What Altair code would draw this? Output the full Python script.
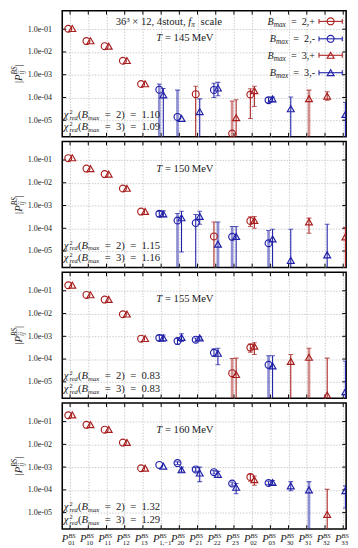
import altair as alt
import pandas as pd

N = None
FONT = "Liberation Serif"
RED = "#a81e1e"
BLUE = "#1f1fa8"
INK = "#222222"
GRID = "#bdbdbd"
W, H = 293, 130
YMIN, YMAX = 1.9e-6, 0.65

# ---------------- data ----------------
SUBS = ["01", "10", "11", "12", "13", "1,−1", "20", "21", "22", "23",
        "02", "03", "30", "31", "32", "33"]
TEMPS = [145, 150, 155, 160]
SERIES = ["2,+", "2,-", "3,+", "3,-"]
CHI2_B2 = [1.10, 1.15, 0.83, 1.32]
CHI2_B3 = [1.09, 1.16, 0.83, 1.29]
DECADES = [1e-1, 1e-2, 1e-3, 1e-4, 1e-5]

# T = 145 MeV
val_145_2p = [0.105, 0.030, 0.018, 4.1e-3, 3.9e-4, N, N, 1.4e-4, N, 2.6e-6, 1.35e-4, N, N, N, N, N]
up_145_2p = [N, N, N, N, N, N, N, 3.1e-4, N, 7.0e-5, 2.4e-4, N, N, N, N, N]
lo_145_2p = [N, N, N, N, N, N, N, 0, N, 0, 1.2e-5, N, N, N, N, N]
val_145_2m = [N, N, N, N, N, 2.2e-4, 1.4e-5, N, 2.15e-4, N, N, 7.6e-5, N, N, N, N]
up_145_2m = [N, N, N, N, N, 3.9e-4, 2.1e-4, N, 4.2e-4, N, N, 1.0e-4, N, N, N, N]
lo_145_2m = [N, N, N, N, N, 0, 0, N, 1.0e-4, N, N, 6.0e-5, N, N, N, N]
val_145_3p = [0.107, 0.031, 0.018, 4.2e-3, 4.0e-4, N, N, N, N, 1.3e-5, 2.0e-4, N, N, 8.9e-5, 1.15e-4, N]
up_145_3p = [N, N, N, N, N, N, N, N, N, 8.0e-5, 3.1e-4, N, N, 2.1e-4, 1.8e-4, N]
lo_145_3p = [N, N, N, N, N, N, N, N, N, 0, 4.0e-5, N, N, 0, 7.5e-5, N]
val_145_3m = [N, N, N, N, N, 1.3e-4, 1.2e-5, 2.4e-5, 2.6e-4, N, N, 8.7e-5, 3.2e-5, N, N, 1.8e-5]
up_145_3m = [N, N, N, N, N, 2.5e-4, N, 8.7e-5, 4.6e-4, N, N, 1.05e-4, 1.05e-4, N, N, 6.0e-5]
lo_145_3m = [N, N, N, N, N, 0, N, 0, 1.2e-4, N, N, 6.5e-5, 0, N, N, 0]

# T = 150 MeV
val_150_2p = [0.12, 0.042, 0.024, 5.6e-3, 5.4e-4, N, N, N, 4.4e-5, N, 2.1e-4, N, N, N, N, N]
up_150_2p = [N, N, N, N, N, N, N, N, 1.9e-4, N, 3.2e-4, N, N, N, N, N]
lo_150_2p = [N, N, N, N, N, N, N, N, 0, N, 1.2e-4, N, N, N, N, N]
val_150_2m = [N, N, N, N, N, 4.3e-4, 2.2e-4, 1.7e-4, N, 4.2e-5, N, 2.2e-5, N, N, N, N]
up_150_2m = [N, N, N, N, N, 5.5e-4, 4.5e-4, 4.0e-4, N, 1.2e-4, N, 8.0e-5, N, N, N, N]
lo_150_2m = [N, N, N, N, N, 3.3e-4, 0, 0, N, 0, N, 0, N, N, N, N]
val_150_3p = [0.125, 0.042, 0.024, 5.7e-3, 5.5e-4, N, N, N, N, N, 2.2e-4, N, N, 1.9e-4, N, 4.2e-5]
up_150_3p = [N, N, N, N, N, N, N, N, N, N, 3.3e-4, N, N, 2.8e-4, N, 1.1e-4]
lo_150_3p = [N, N, N, N, N, N, N, N, N, N, 1.0e-4, N, N, 6.0e-5, N, 0]
val_150_3m = [N, N, N, N, N, 4.3e-4, 2.9e-4, 3.3e-4, 2.0e-5, 4.4e-5, N, 3.4e-5, 3.9e-6, N, 6.8e-6, N]
up_150_3m = [N, N, N, N, N, 5.8e-4, 5.6e-4, 5.6e-4, 1.9e-4, 1.2e-4, N, 9.0e-5, 9.0e-5, N, 1.5e-4, N]
lo_150_3m = [N, N, N, N, N, 3.2e-4, 9.0e-6, 1.5e-4, 0, 0, N, 0, 0, N, 0, N]

# T = 155 MeV
val_155_2p = [0.175, 0.066, 0.041, 9.3e-3, 7.9e-4, N, N, N, N, 2.4e-5, 3.2e-4, N, N, N, N, N]
up_155_2p = [N, N, N, N, N, N, N, N, N, 1.05e-4, 4.6e-4, N, N, N, N, N]
lo_155_2p = [N, N, N, N, N, N, N, N, N, 0, 2.0e-4, N, N, N, N, N]
val_155_2m = [N, N, N, N, N, 8.5e-4, 6.2e-4, 7.1e-4, 1.9e-4, N, N, 5.6e-5, N, N, N, N]
up_155_2m = [N, N, N, N, N, 1.1e-3, 8.0e-4, 8.5e-4, 2.8e-4, N, N, 1.4e-4, N, N, N, N]
lo_155_2m = [N, N, N, N, N, 6.5e-4, 4.5e-4, 5.8e-4, 1.3e-4, N, N, 0, N, N, N, N]
val_155_3p = [0.178, 0.067, 0.042, 9.5e-3, 8.0e-4, N, N, N, N, 2.1e-5, 3.7e-4, N, 7.9e-5, 1.2e-4, 2.6e-6, N]
up_155_3p = [N, N, N, N, N, N, N, N, N, 1.1e-4, 5.2e-4, N, 1.6e-4, 3.0e-4, 1.1e-4, N]
lo_155_3p = [N, N, N, N, N, N, N, N, N, 0, 1.6e-4, N, 0, 0, 0, N]
val_155_3m = [N, N, N, N, N, 8.6e-4, 8.9e-4, 8.5e-4, 1.8e-4, N, N, 5.0e-5, N, N, N, 3.7e-6]
up_155_3m = [N, N, N, N, N, 1.15e-3, 1.3e-3, 9.8e-4, 3.0e-4, N, N, 1.4e-4, N, N, N, 8.0e-5]
lo_155_3m = [N, N, N, N, N, 6.0e-4, 6.0e-4, 7.0e-4, 5.6e-5, N, N, 0, N, N, N, 0]

# T = 160 MeV
val_160_2p = [0.19, 0.072, 0.044, 0.012, 8.9e-4, N, N, N, N, N, 3.7e-4, N, N, N, N, N]
up_160_2p = [N, N, N, N, N, N, N, N, N, N, 4.8e-4, N, N, N, N, N]
lo_160_2p = [N, N, N, N, N, N, N, N, N, N, 2.4e-4, N, N, N, N, N]
val_160_2m = [N, N, N, N, N, 1.25e-3, 1.5e-3, 7.9e-4, 6.0e-4, 1.9e-4, N, 2.0e-4, N, N, N, N]
up_160_2m = [N, N, N, N, N, N, 1.7e-3, 9.5e-4, 7.0e-4, 2.2e-4, N, 2.4e-4, N, N, N, N]
lo_160_2m = [N, N, N, N, N, N, 1.3e-3, 6.5e-4, 5.0e-4, 1.6e-4, N, 1.7e-4, N, N, N, N]
val_160_3p = [0.195, 0.073, 0.045, 0.0122, 9.0e-4, N, N, N, N, N, 2.8e-4, N, N, N, 8.3e-6, N]
up_160_3p = [N, N, N, N, N, N, N, N, N, N, 4.1e-4, N, N, N, 1.05e-4, N]
lo_160_3p = [N, N, N, N, N, N, N, N, N, N, 1.6e-4, N, N, N, 0, N]
val_160_3m = [N, N, N, N, N, 1.1e-3, 7.6e-4, 5.5e-4, 4.8e-4, 1.3e-4, N, 2.1e-4, 1.5e-4, 1.0e-4, N, 9.3e-5]
up_160_3m = [N, N, N, N, N, N, 1.0e-3, 1.0e-3, 6.5e-4, 1.9e-4, N, 2.6e-4, 2.3e-4, 2.3e-4, N, 1.5e-4]
lo_160_3m = [N, N, N, N, N, N, 6.0e-4, 2.3e-4, 3.5e-4, 6.7e-5, N, 1.7e-4, 9.2e-5, 0, N, 1.6e-5]

# error bars drawn light (panel T, series, category index)
FAINT = [(145, "2,+", 9), (145, "2,-", 5), (145, "2,-", 6), (145, "3,+", 13),
         (150, "2,-", 6), (150, "2,-", 9), (150, "2,-", 11), (150, "3,-", 8),
         (155, "2,+", 9), (155, "2,-", 11), (155, "3,+", 13),
         (160, "3,-", 13)]

TABLE = {
    145: [(val_145_2p, up_145_2p, lo_145_2p), (val_145_2m, up_145_2m, lo_145_2m),
          (val_145_3p, up_145_3p, lo_145_3p), (val_145_3m, up_145_3m, lo_145_3m)],
    150: [(val_150_2p, up_150_2p, lo_150_2p), (val_150_2m, up_150_2m, lo_150_2m),
          (val_150_3p, up_150_3p, lo_150_3p), (val_150_3m, up_150_3m, lo_150_3m)],
    155: [(val_155_2p, up_155_2p, lo_155_2p), (val_155_2m, up_155_2m, lo_155_2m),
          (val_155_3p, up_155_3p, lo_155_3p), (val_155_3m, up_155_3m, lo_155_3m)],
    160: [(val_160_2p, up_160_2p, lo_160_2p), (val_160_2m, up_160_2m, lo_160_2m),
          (val_160_3p, up_160_3p, lo_160_3p), (val_160_3m, up_160_3m, lo_160_3m)],
}

# ---------------- styling helpers ----------------
OFFS = {"2,+": -0.1, "2,-": -0.1, "3,+": 0.12, "3,-": 0.12}
COLS = [RED, BLUE, RED, BLUE]
SHAPES = ["circle", "circle", "triangle-up", "triangle-up"]

xs = alt.Scale(domain=[-0.43, 15.16], nice=False, zero=False)
ys = alt.Scale(type="log", domain=[YMIN, YMAX], nice=False)
ax_x = alt.Axis(values=list(range(16)), grid=True, gridColor=GRID, gridDash=[1.5, 1.5],
                gridWidth=0.8, labels=False, ticks=False, domain=False, title=None)
ax_y = alt.Axis(values=DECADES, grid=True, gridColor=GRID, gridDash=[1.5, 1.5], gridWidth=0.8,
                labelExpr="'1.0e-0' + format(-log(datum.value)/LN10, '.0f')",
                labelFont=FONT, labelFontSize=8.3, labelColor=INK, labelPadding=11,
                ticks=False, domain=False, title=None)
col_enc = alt.Color("s:N", scale=alt.Scale(domain=SERIES, range=COLS), legend=None)
shape_enc = alt.Shape("s:N", scale=alt.Scale(domain=SERIES, range=SHAPES), legend=None)

REG = {" ": .25, "\u00a0": .25, "\u2009": .17, ".": .25, ",": .25, "(": .333, ")": .333,
       "=": .564, "+": .564, "-": .333, "−": .564, "×": .564, "³": .3, "²": .3, "|": .2,
       "a": .444, "c": .444, "e": .444, "l": .278, "s": .389, "t": .278, "o": .5, "u": .5,
       "M": .889, "V": .722}
ITA = {"B": .611, "S": .5, "P": .611, "T": .556, "f": .278, "π": .55, "χ": .55, "m": .722,
       "a": .5, "x": .444, "r": .389, "e": .444, "d": .5, "i": .278, "j": .278}
ONE = pd.DataFrame({"k": [0]})


def width(t, size, italic):
    tab = ITA if italic else REG
    return sum(tab.get(c, 0.5) for c in t) * size


def txt(t, x, y, size, italic=False, angle=0, color=INK):
    kw = dict(text=t.replace(" ", "\u00a0"), font=FONT, fontSize=size,
              fontStyle="italic" if italic else "normal", align="left",
              baseline="alphabetic", color=color)
    if angle:
        kw["angle"] = angle
    return alt.Chart(ONE).mark_text(**kw).encode(x=alt.value(x), y=alt.value(y))


def rich(segs, x, y, anchor="left", angle=0):
    pieces, u = [], 0.0
    for s in segs:
        if s[0] == "stack":
            a, b = s[1], s[2]
            pieces += [(a, u), (b, u)]
            u += max(width(a[0], a[1], a[2]), width(b[0], b[1], b[2]))
        else:
            t, size, it, rise = s
            lead = len(t) - len(t.lstrip(" "))
            u += lead * 0.25 * size          # leading blanks become a gap
            t = t.lstrip(" ")
            pieces.append(((t, size, it, rise), u))
            u += width(t, size, it)
    start = {"left": 0.0, "center": -u / 2, "right": -u}[anchor]
    out = []
    for (t, size, it, rise), uu in pieces:
        if angle == 270:
            out.append(txt(t, x - rise, y - (start + uu), size, it, angle=270))
        else:
            out.append(txt(t, x + start + uu, y - rise, size, it))
    return out


def panel(k):
    T = TEMPS[k]
    pts, errs = [], []
    for s, (vals, ups, los) in zip(SERIES, TABLE[T]):
        for i in range(16):
            if vals[i] is None:
                continue
            xv = i + OFFS[s]
            pts.append({"x": xv, "v": vals[i], "s": s})
            if ups[i] is not None:
                lo = los[i]
                errs.append({"x": xv, "hi": ups[i], "lo": lo if lo > YMIN else YMIN,
                             "s": s, "faint": (T, s, i) in FAINT, "locap": lo > YMIN})
    P = pd.DataFrame(pts)
    E = pd.DataFrame(errs)
    Ef = E[E.faint]
    En = E[~E.faint]
    Elo = E[E.locap]

    X = lambda f: alt.X(f, scale=xs, axis=ax_x)
    Y = lambda f: alt.Y(f, scale=ys, axis=ax_y)

    tx = pd.DataFrame({"x": list(range(16))})
    ty = pd.DataFrame({"d": DECADES})
    layers = [
        alt.Chart(tx).mark_rule(color="black", strokeWidth=1).encode(x=X("x:Q"), y=alt.value(0), y2=alt.value(4)),
        alt.Chart(tx).mark_rule(color="black", strokeWidth=1).encode(x=X("x:Q"), y=alt.value(H), y2=alt.value(H - 4)),
        alt.Chart(ty).mark_rule(color="black", strokeWidth=1).encode(y=Y("d:Q"), x=alt.value(0), x2=alt.value(4)),
        alt.Chart(ty).mark_rule(color="black", strokeWidth=1).encode(y=Y("d:Q"), x=alt.value(W - 4), x2=alt.value(W)),
    ]
    if len(Ef):
        layers.append(alt.Chart(Ef).mark_rule(strokeWidth=2.8, opacity=0.5, clip=True).encode(
            x=X("x:Q"), y=Y("lo:Q"), y2="hi:Q", color=col_enc))
    layers += [
        alt.Chart(En).mark_rule(strokeWidth=1.1, clip=True).encode(
            x=X("x:Q"), y=Y("lo:Q"), y2="hi:Q", color=col_enc),
        alt.Chart(E).mark_tick(orient="horizontal", size=5, thickness=1.1, clip=True).encode(
            x=X("x:Q"), y=Y("hi:Q"), color=col_enc),
    ]
    if len(Elo):
        layers.append(alt.Chart(Elo).mark_tick(orient="horizontal", size=5, thickness=1.1, clip=True).encode(
            x=X("x:Q"), y=Y("lo:Q"), color=col_enc))
    layers.append(alt.Chart(P).mark_point(filled=False, strokeWidth=1.2, size=50, opacity=1, clip=True).encode(
        x=X("x:Q"), y=Y("v:Q"), color=col_enc, shape=shape_enc))

    # annotations
    layers += rich([("T", 11, True, 0), (" = %d\u2009MeV" % T, 11, False, 0)], 126.5, 31, "center")
    for j, (b, c) in enumerate([(2, CHI2_B2[k]), (3, CHI2_B3[k])]):
        yb = H - 19.5 + 13 * j
        layers += rich([("χ", 11, True, 0),
                        ("stack", ("2", 6.5, False, 4), ("red", 6.5, True, -2)),
                        ("(", 11, False, 0), ("B", 11, True, 0), ("max", 7, True, -2),
                        ("  =  %d)  =  %.2f" % (b, c), 11, False, 0)], 1.5, yb)
    layers += rich([("|", 11, False, 0), ("P", 11, True, 0),
                    ("stack", ("BS", 7.5, True, 4.5), ("ij", 7.5, True, -2.5)),
                    ("|", 11, False, 0)], -42, H / 2, "center", angle=270)

    if k == 0:
        layers += rich([("36³ × 12, 4stout, ", 11, False, 0), ("f", 11, True, 0),
                        ("π", 7.5, True, -2), ("  scale", 11, False, 0)], 110, 15, "center")
        for r, (s, c, shp) in enumerate(zip(SERIES, COLS, SHAPES)):
            ry = [11, 29, 46, 64][r]
            layers += rich([("B", 10.5, True, 0), ("max", 7.5, True, -2),
                            ("  =  " + s, 10.5, False, 0)], W - 32, ry + 3.5, "right")
            layers += [
                alt.Chart(ONE).mark_rule(color=c, strokeWidth=1.1).encode(
                    x=alt.value(W - 28), x2=alt.value(W - 4), y=alt.value(ry)),
                alt.Chart(ONE).mark_rule(color=c, strokeWidth=1.1).encode(
                    x=alt.value(W - 28), y=alt.value(ry - 2.5), y2=alt.value(ry + 2.5)),
                alt.Chart(ONE).mark_rule(color=c, strokeWidth=1.1).encode(
                    x=alt.value(W - 4), y=alt.value(ry - 2.5), y2=alt.value(ry + 2.5)),
                alt.Chart(ONE).mark_point(shape=shp, filled=False, color=c, strokeWidth=1.2,
                                          size=50, opacity=1).encode(
                    x=alt.value(W - 16), y=alt.value(ry)),
            ]

    if k == 3:
        lab = pd.DataFrame({"x": list(range(16)), "sub": SUBS})
        base = alt.Chart(lab)
        layers += [
            base.mark_text(text="P", font=FONT, fontSize=11, fontStyle="italic", align="left",
                           baseline="alphabetic", color=INK, dx=-8.5).encode(
                x=X("x:Q"), y=alt.value(H + 13.5)),
            base.mark_text(text="BS", font=FONT, fontSize=7, fontStyle="italic", align="left",
                           baseline="alphabetic", color=INK, dx=-2).encode(
                x=X("x:Q"), y=alt.value(H + 9.5)),
            base.mark_text(font=FONT, fontSize=7, align="left", baseline="alphabetic",
                           color=INK, dx=-2).encode(
                x=X("x:Q"), y=alt.value(H + 16), text="sub:N"),
        ]
    return alt.layer(*layers).properties(width=W, height=H)


chart = alt.vconcat(*[panel(k) for k in range(4)], spacing=1).properties(
    padding={"left": 2, "top": -8, "right": 0, "bottom": 0}
).configure_view(stroke="black", strokeWidth=1.6)

chart.save("out.html", embed_options={"renderer": "svg", "actions": False})
